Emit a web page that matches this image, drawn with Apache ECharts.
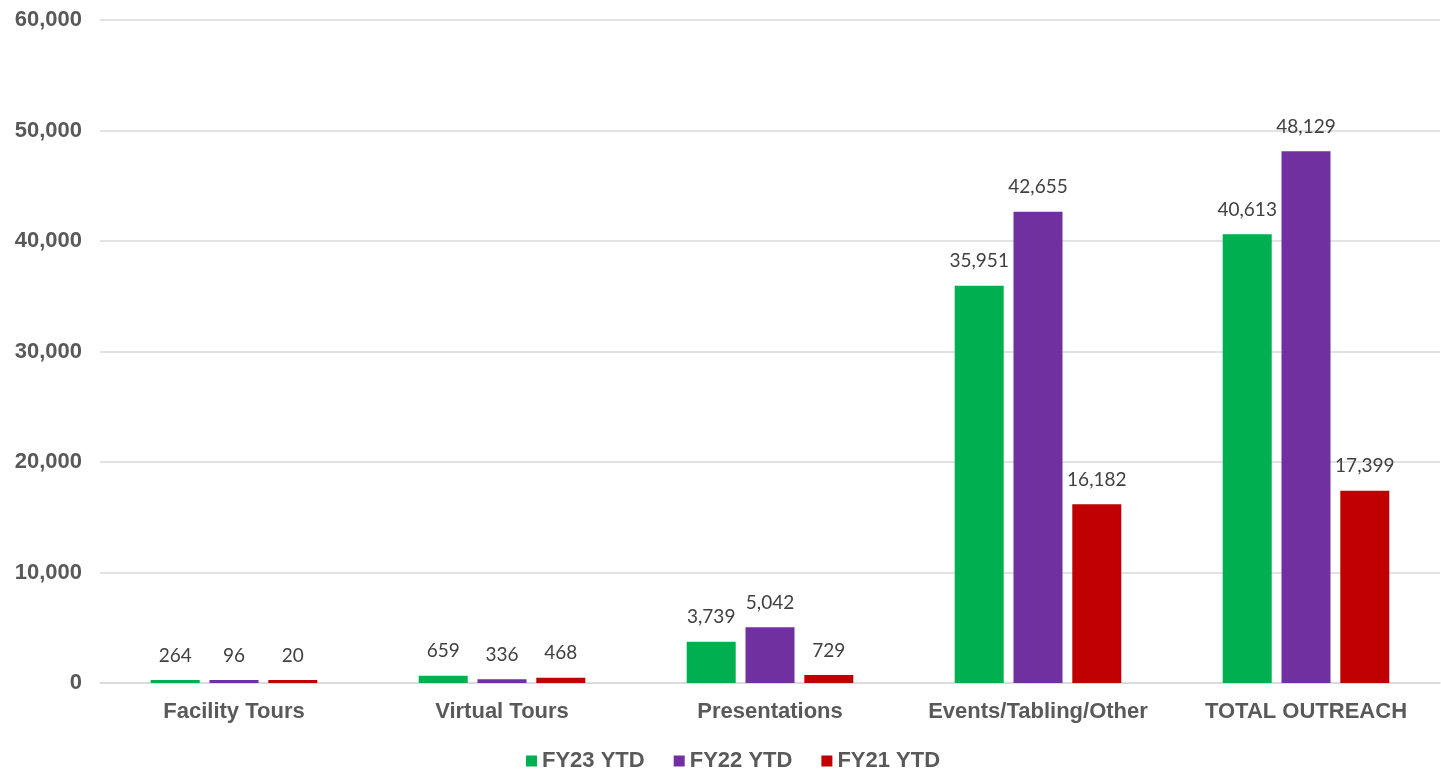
<!DOCTYPE html>
<html><head><meta charset="utf-8">
<script src="https://cdn.jsdelivr.net/npm/echarts@6/dist/echarts.min.js"></script>
<style>html,body{margin:0;padding:0;background:#fff}#c{width:1441px;height:773px}</style>
</head><body><div id="c"></div>
<script>
const categories = ["Facility Tours", "Virtual Tours", "Presentations", "Events/Tabling/Other", "TOTAL OUTREACH"];
const fy23 = [264, 659, 3739, 35951, 40613];
const fy22 = [96, 336, 5042, 42655, 48129];
const fy21 = [20, 468, 729, 16182, 17399];
const seriesNames = ["FY23 YTD", "FY22 YTD", "FY21 YTD"];
const colors = ["#00B050", "#7030A0", "#C00000"];

const chart = echarts.init(document.getElementById('c'));
const labelStyle = {
  show: true, position: 'top', distance: 15,
  fontFamily: 'Lato, "Open Sans", sans-serif', fontSize: 19, color: '#404040',
  formatter: p => p.value.toLocaleString('en-US')
};
function mk(name, data, color) {
  return { name, type: 'bar', data, barWidth: 49, barGap: '20%', barMinHeight: 3,
    itemStyle: { color }, label: labelStyle };
}
const axisFont = { fontFamily: '"Liberation Sans", Arial, sans-serif', fontWeight: 'bold', fontSize: 22, color: '#595959' };
chart.setOption({
  animation: false,
  color: colors,
  grid: { left: 100, right: 1, top: 20, bottom: 90, containLabel: false },
  legend: {
    top: 745, left: 521, itemWidth: 11, itemHeight: 11, itemGap: 29,
    icon: 'rect',
    textStyle: Object.assign({}, axisFont),
    data: seriesNames
  },
  xAxis: {
    type: 'category', data: categories,
    axisLine: { lineStyle: { color: '#d9d9d9', width: 1.5 } },
    axisTick: { show: false },
    axisLabel: Object.assign({ margin: 18, interval: 0 }, axisFont)
  },
  yAxis: {
    type: 'value', min: 0, max: 60000, interval: 10000,
    axisLine: { show: false }, axisTick: { show: false },
    splitLine: { lineStyle: { color: '#d9d9d9', width: 1.5 } },
    axisLabel: Object.assign({ margin: 18, formatter: v => v.toLocaleString('en-US') }, axisFont)
  },
  series: [mk(seriesNames[0], fy23, colors[0]), mk(seriesNames[1], fy22, colors[1]), mk(seriesNames[2], fy21, colors[2])]
});
</script></body></html>
